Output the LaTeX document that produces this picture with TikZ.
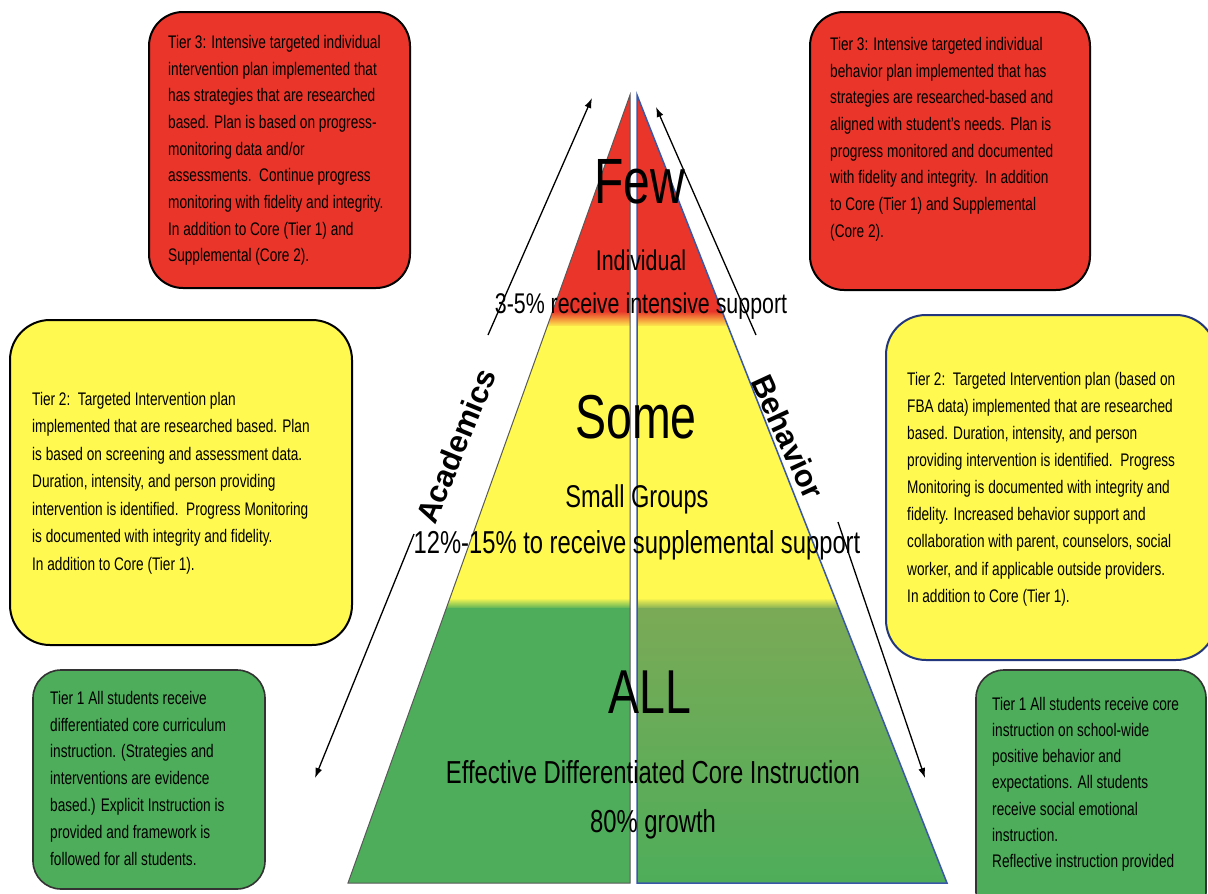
\documentclass[tikz,border=0pt]{standalone}
\usepackage{fontspec}
\setmainfont{Liberation Sans}[FakeStretch=0.75]
\newfontfamily\widefont{Liberation Sans}
\usetikzlibrary{arrows.meta}
\definecolor{tred}{HTML}{E9352A}
\definecolor{torange}{HTML}{F39A32}
\definecolor{tyellow}{HTML}{FFF950}
\definecolor{tgreen}{HTML}{4DAD5A}
\definecolor{tolive}{HTML}{7BAA56}
\definecolor{tnavy}{HTML}{22367E}
\definecolor{tblue}{HTML}{3A58A8}
\tikzset{
  redbox/.style={fill=tred, draw=black, rounded corners=34pt, line width=2pt},
  yelbox/.style={fill=tyellow, rounded corners=40pt, line width=2pt},
  grnbox/.style={fill=tgreen, draw=black!80, rounded corners=28pt, line width=1.6pt},
  boxtxt/.style={anchor=north west, align=left, inner sep=0pt, font=\fontsize{18.2}{26.7}\selectfont},
  bigword/.style={font=\fontsize{#1}{#1}\selectfont, inner sep=0pt, anchor=base},
  sidelabel/.style={font=\widefont\bfseries\fontsize{31}{31}\selectfont, inner sep=0pt},
  arr/.style={-{Latex[length=10pt,width=7pt]}, line width=1.3pt}
}
\begin{document}
\begin{tikzpicture}[x=1pt,y=-1pt]
\useasboundingbox (0,0) rectangle (1208,894);
\fill[white] (0,0) rectangle (1208,894);

% ---------- pyramid left half ----------
\coordinate (LA) at (630,95);
\coordinate (LB) at (348,883);
\coordinate (LC) at (630,883);
\begin{scope}
  \clip (LA) -- (LB) -- (LC) -- cycle;
  \fill[tred] (330,90) rectangle (640,312);
  \shade[top color=tred, middle color=torange, bottom color=tyellow] (330,311) rectangle (640,327);
  \fill[tyellow] (330,326) rectangle (640,599);
  \shade[top color=tyellow, bottom color=tgreen] (330,598) rectangle (640,609);
  \fill[tgreen] (330,608) rectangle (640,890);
\end{scope}
\draw[black!65, line width=1pt] (LA) -- (LB) -- (LC) -- cycle;

% ---------- pyramid right half ----------
\coordinate (RA) at (637,95);
\coordinate (RB) at (637,883);
\coordinate (RC) at (947,883);
\begin{scope}
  \clip (RA) -- (RB) -- (RC) -- cycle;
  \fill[tred] (630,90) rectangle (960,312);
  \shade[top color=tred, middle color=torange, bottom color=tyellow] (630,311) rectangle (960,327);
  \fill[tyellow] (630,326) rectangle (960,599);
  \shade[top color=tyellow, bottom color=tolive] (630,598) rectangle (960,609);
  \shade[top color=tolive, bottom color=tgreen] (630,608) rectangle (960,890);
\end{scope}
\draw[tblue, line width=1.5pt] (RA) -- (RB) -- (RC) -- cycle;

% ---------- pyramid texts ----------
\node[bigword=64] (few) at (640,203) {Few};
\node[bigword=28.5] (indiv) at (641,270) {Individual};
\node[bigword=28.5] (three) at (641,313) {3-5\% receive intensive support};
\node[bigword=62] (some) at (636,438) {Some};
\node[bigword=31.5] (small) at (637,507) {Small Groups};
\node[bigword=31.7] (twelve) at (637,553) {12\%-15\% to receive supplemental support};
\node[bigword=62] (all) at (650,713) {ALL};
\node[bigword=31.8] (eff) at (653,783) {Effective Differentiated Core Instruction};
\node[bigword=31.8] (eighty) at (653,832) {80\% growth};

% ---------- side labels and arrows ----------
\node[sidelabel, rotate=67.8] (acad) at (456,446) {Academics};
\node[sidelabel, rotate=-65.2] (behav) at (788,437) {Behavior};

\coordinate (a1s) at (488,335);
\coordinate (a1e) at (592,98);
\coordinate (a2s) at (414,534);
\coordinate (a2e) at (315,778);
\coordinate (a3s) at (756,335);
\coordinate (a3e) at (656,107);
\coordinate (a4s) at (838,522);
\coordinate (a4e) at (925,778);
\draw[arr] (a1s) -- (a1e);
\draw[arr] (a2s) -- (a2e);
\draw[arr] (a3s) -- (a3e);
\draw[arr] (a4s) -- (a4e);

% ---------- boxes ----------
\path[redbox] (149,12) rectangle (410,288);
\coordinate (t3l) at (149,12);
\path[redbox] (810,12) rectangle (1090,290);
\coordinate (t3r) at (810,12);
\path[yelbox, draw=black] (10,320) rectangle (352,645);
\coordinate (t2l) at (10,320);
\path[yelbox, draw=tnavy] (886,315) rectangle (1216,660);
\coordinate (t2r) at (886,315);
\path[grnbox] (33,670) rectangle (265,889);
\coordinate (t1l) at (33,670);
\path[grnbox] (976,670) rectangle (1206,920);
\coordinate (t1r) at (976,670);

% ---------- box texts ----------
\node[boxtxt] (t3ltxt) at (168,35) {Tier 3: Intensive targeted individual\\
intervention plan implemented that\\
has strategies that are researched\\
based. Plan is based on progress-\\
monitoring data and/or\\
assessments.\ \ Continue progress\\
monitoring with fidelity and integrity.\\
In addition to Core (Tier 1) and\\
Supplemental (Core 2).};

\node[boxtxt] (t3rtxt) at (830,37) {Tier 3: Intensive targeted individual\\
behavior plan implemented that has\\
strategies are researched-based and\\
aligned with student’s needs. Plan is\\
progress monitored and documented\\
with fidelity and integrity.\ \ In addition\\
to Core (Tier 1) and Supplemental\\
(Core 2).};

\node[boxtxt, font=\fontsize{18.2}{27.5}\selectfont] (t2ltxt) at (32,392) {Tier 2:\ \ Targeted Intervention plan\\
implemented that are researched based. Plan\\
is based on screening and assessment data.\\
Duration, intensity, and person providing\\
intervention is identified.\ \ Progress Monitoring\\
is documented with integrity and fidelity.\\
In addition to Core (Tier 1).};

\node[boxtxt, font=\fontsize{18.2}{27.1}\selectfont] (t2rtxt) at (907,372) {Tier 2:\ \ Targeted Intervention plan (based on\\
FBA data) implemented that are researched\\
based. Duration, intensity, and person\\
providing intervention is identified.\ \ Progress\\
Monitoring is documented with integrity and\\
fidelity. Increased behavior support and\\
collaboration with parent, counselors, social\\
worker, and if applicable outside providers.\\
In addition to Core (Tier 1).};

\node[boxtxt, font=\fontsize{18.2}{26.8}\selectfont] (t1ltxt) at (50,691) {Tier 1 All students receive\\
differentiated core curriculum\\
instruction. (Strategies and\\
interventions are evidence\\
based.) Explicit Instruction is\\
provided and framework is\\
followed for all students.};

\node[boxtxt, font=\fontsize{18.2}{26.2}\selectfont] (t1rtxt) at (992,697) {Tier 1 All students receive core\\
instruction on school-wide\\
positive behavior and\\
expectations. All students\\
receive social emotional\\
instruction.\\
Reflective instruction provided};
\end{tikzpicture}
\end{document}
